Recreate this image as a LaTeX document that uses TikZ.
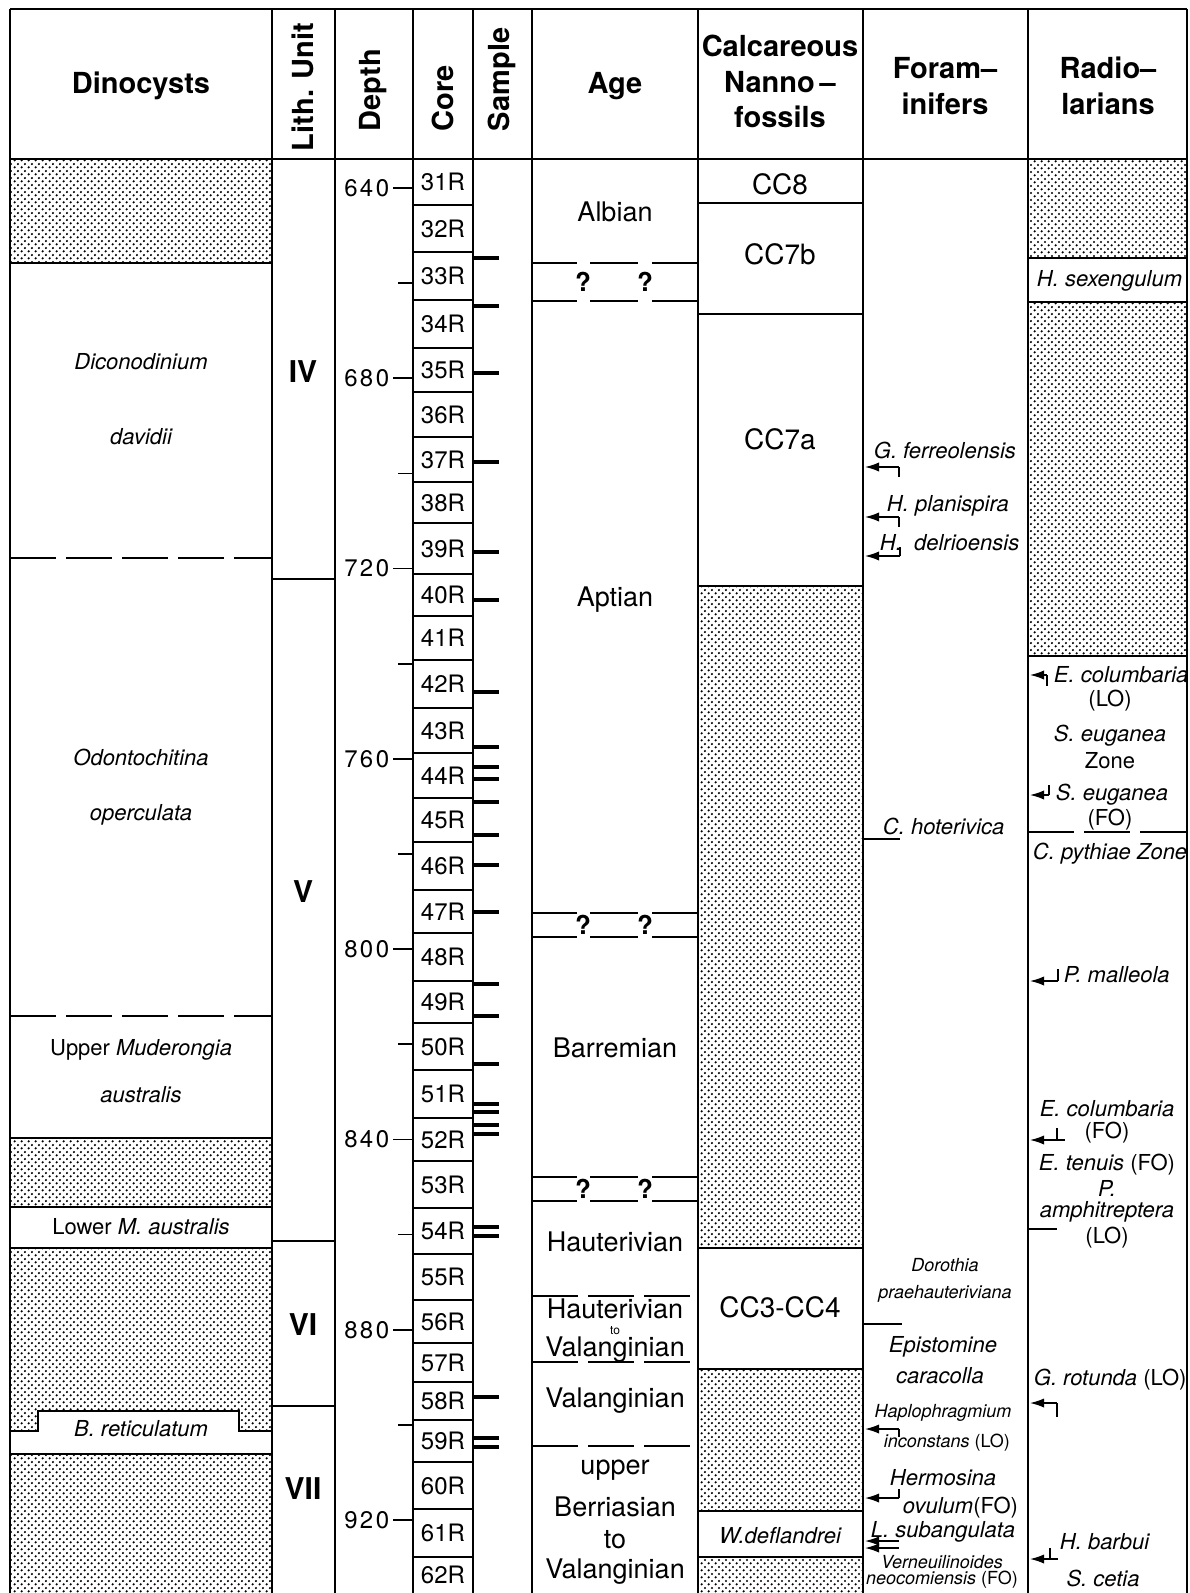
\documentclass[tikz,border=0pt]{standalone}
\usepackage{fontspec}
\setmainfont{TeX Gyre Heros}
\usetikzlibrary{arrows.meta,patterns}
\pgfdeclarepatternformonly{sdots}{\pgfqpoint{0pt}{0pt}}{\pgfqpoint{3.4pt}{3.4pt}}{\pgfqpoint{3.4pt}{3.4pt}}{%
  \pgfpathcircle{\pgfqpoint{0.85pt}{0.85pt}}{0.62pt}%
  \pgfpathcircle{\pgfqpoint{2.55pt}{2.55pt}}{0.62pt}%
  \pgfusepath{fill}}

\begin{document}
\begin{tikzpicture}[x=0.5pt,y=-0.5pt,line width=0.9pt,inner sep=1pt,
 hd/.style={font=\fontsize{14.5}{16}\selectfont\bfseries},
 unit/.style={font=\fontsize{15}{17}\selectfont\bfseries},
 core/.style={font=\fontsize{12}{14}\selectfont},
 dep/.style={font=\fontsize{12}{14}\selectfont\addfontfeatures{LetterSpace=10},anchor=east},
 age/.style={font=\fontsize{13.5}{15}\selectfont},
 nan/.style={font=\fontsize{14}{16}\selectfont},
 sp/.style={font=\fontsize{11}{13}\selectfont\itshape},
 ssp/.style={font=\fontsize{9}{11}\selectfont\itshape},
 up/.style={font=\fontsize{11}{13}\selectfont},
 qm/.style={font=\fontsize{13}{15}\selectfont\bfseries},
 stip/.style={pattern=sdots},
 zb/.style={dash pattern=on 23pt off 5pt},
 lev/.style={line width=0.7pt,-{Latex[length=7pt,width=4.6pt]}},
 smp/.style={line width=1.6pt}]
\useasboundingbox (0,0) rectangle (1189,1593);
\fill[white] (0,0) rectangle (1189,1593);

% intervals without data
\foreach \xa/\ya/\xb/\yb in {10/159/272/263,10/1138/272/1207,10/1248/272/1593,
  698/586/863/1248,698/1369/863/1511,698/1557/863/1593,1028/159/1187/258,1028/302/1187/656}
  \fill[stip] (\xa,\ya) rectangle (\xb,\yb);
\fill[white] (10,1431) -- (38,1431) -- (38,1411) -- (239,1411) -- (239,1431) -- (272,1431) -- (272,1454) -- (10,1454) -- cycle;
\draw (10,1431) -- (38,1431) -- (38,1411) -- (239,1411) -- (239,1431) -- (272,1431);

% frame
\draw[line width=1.2pt] (10,9) -- (1187,9);
\draw[line width=1.2pt] (10,159) -- (1187,159);
\foreach \x in {10,272,335,413,473,532,698,863,1028,1187}
  \draw (\x,9) -- (\x,1593);

\node[hd] (hdino) at (141,86) {Dinocysts};
\node[hd,rotate=90,anchor=west] (hlith) at (303,154) {Lith. Unit};
\node[hd,rotate=90,anchor=west] (hdep) at (373,134) {Depth};
\node[hd,rotate=90,anchor=west] (hcore) at (443,134) {Core};
\node[hd,rotate=90,anchor=west] (hsmp) at (502,134) {Sample};
\node[hd] (hage) at (615,86) {Age};
\node[hd] (hnan1) at (780,46) {Calcareous};
\node[hd] (hnan2) at (780,82) {Nanno\,--};
\node[hd] (hnan3) at (780,117) {fossils};
\node[hd] (hfor1) at (945,68) {Foram--};
\node[hd] (hfor2) at (945,104) {inifers};
\node[hd] (hrad1) at (1108,68) {Radio--};
\node[hd] (hrad2) at (1108,104) {larians};

% dinocysts
\draw (10,263) -- (272,263);
\draw[zb] (10,558) -- (272,558);
\draw[zb] (10,1016) -- (272,1016);
\foreach \y in {1138,1207,1248,1454}
  \draw (10,\y) -- (272,\y);
\node[sp] (dd1) at (141,362) {Diconodinium};
\node[sp] (dd2) at (141,437) {davidii};
\node[sp] (do1) at (141,757) {Odontochitina};
\node[sp] (do2) at (141,815) {operculata};
\node[up] (dm1) at (141,1050) {Upper \textit{Muderongia}};
\node[sp] (dm2) at (141,1095) {australis};
\node[up] (dm3) at (141,1227) {Lower \textit{M. australis}};
\node[sp] (dbr) at (141,1429) {B. reticulatum};

% lithologic units
\foreach \y in {579,1241,1406}
  \draw (272,\y) -- (335,\y);
\node[unit] (u4) at (303,372) {IV};
\node[unit] (u5) at (303,892) {V};
\node[unit] (u6) at (303,1325) {VI};
\node[unit] (u7) at (303,1489) {VII};

% depth scale
\foreach \d in {640,680,...,920}{
  \node[dep] (d\d) at (392,{188+(\d-640)*4.757}) {\d};
  \draw (393,{188+(\d-640)*4.757}) -- (413,{188+(\d-640)*4.757});}
\foreach \d in {660,700,...,900}
  \draw (398,{188+(\d-640)*4.757}) -- (413,{188+(\d-640)*4.757});

% cores
\foreach \n/\ya/\yb in {31/159/205,32/205/252,33/252/300,34/300/348,35/348/392,36/392/437,
  37/437/482,38/482/523,39/523/574,40/574/616,41/616/660,42/660/708,43/708/753,44/753/798,
  45/798/842,46/842/890,47/890/933,48/933/981,49/981/1023,50/1023/1070,51/1070/1118,
  52/1118/1161,53/1161/1208,54/1208/1254,55/1254/1300,56/1300/1343,57/1343/1382,
  58/1382/1420,59/1420/1462,60/1462/1509,61/1509/1557}{
  \node[core] (c\n) at (443,{(\ya+\yb)/2}) {\n R};
  \draw (413,\yb) -- (473,\yb);}
\node[core] (c62) at (443,1575) {62R};

% samples
\foreach \y in {258,306,373,462,552,600,692,747,767,779,802,835,865,912,
  984,1016,1064,1104,1112,1125,1134,1227,1236,1397,1438,1447}
  \draw[smp] (473,\y) -- (499,\y);

% age
\foreach \ya/\yb/\i in {263/301/1,913/937/2,1177/1201/3}{
  \foreach \y in {\ya,\yb}{
    \draw (532,\y) -- (577,\y);
    \draw (590,\y) -- (638,\y);
    \draw (652,\y) -- (698,\y);}
  \node[qm] (qa\i) at (583,{(\ya+\yb)/2}) {?};
  \node[qm] (qb\i) at (645,{(\ya+\yb)/2}) {?};}
\foreach \y in {1296,1362,1446}
  \draw[zb] (532,\y) -- (698,\y);
\node[age] (a1) at (615,212) {Albian};
\node[age] (a2) at (615,600) {Aptian};
\node[age] (a3) at (615,1048) {Barremian};
\node[age] (a4) at (615,1242) {Hauterivian};
\node[age] (a5) at (615,1309) {Hauterivian};
\node[font=\fontsize{6}{7}\selectfont,inner sep=0pt] (a5t) at (615,1331) {to};
\node[age] (a5b) at (615,1350) {Valanginian};
\node[age] (a6) at (615,1401) {Valanginian};
\node[age] (a7) at (615,1470) {upper};
\node[age] (a7b) at (615,1507) {Berriasian};
\node[age] (a7c) at (615,1540) {to};
\node[age] (a7d) at (615,1572) {Valanginian};

% calcareous nannofossils
\foreach \y in {203,314,586,1248,1369,1511,1557}
  \draw (698,\y) -- (863,\y);
\node[nan] (n1) at (780,184) {CC8};
\node[nan] (n2) at (780,254) {CC7b};
\node[nan] (n3) at (780,439) {CC7a};
\node[nan] (n4) at (780,1307) {CC3-CC4};
\node[sp] (n5) at (780,1536) {W.deflandrei};

% foraminifers
\node[sp,anchor=west] (f1) at (871,450) {G. ferreolensis};
\node[sp,anchor=west] (f2) at (884,506) {H. planispira};
\node[sp,anchor=west] (f3) at (877,543) {H.\ \ delrioensis};
\node[sp,anchor=west] (f4) at (880,826) {C. hoterivica};
\draw (863,839) -- (900,839);
\node[ssp] (f5) at (945,1265) {Dorothia};
\node[ssp] (f5b) at (945,1294) {praehauteriviana};
\draw (863,1324) -- (902,1324);
\node[sp] (f6) at (943,1347) {Epistomine};
\node[sp] (f6b) at (940,1376) {caracolla};
\node[ssp] (f7) at (943,1413) {Haplophragmium};
\node[ssp,anchor=west] (f7b) at (881,1443) {inconstans {\upshape (LO)}};
\node[sp] (f8) at (943,1478) {Hermosina};
\node[sp,anchor=west] (f8b) at (900,1508) {ovulum{\upshape (FO)}};
\node[sp,anchor=west] (f9) at (868,1532) {L. subangulata};
\node[ssp] (f10) at (942,1562) {Verneuilinoides};
\node[ssp] (f10b) at (942,1580) {neocomiensis {\upshape (FO)}};

% radiolarians
\foreach \y in {258,302,656}
  \draw (1028,\y) -- (1187,\y);
\draw[zb] (1028,832) -- (1187,832);
\node[sp,anchor=west] (r1) at (1034,281) {H. sexengulum};
\node[sp,anchor=west] (r2) at (1051,675) {E. columbaria};
\node[up] (r2b) at (1110,701) {(LO)};
\node[sp] (r3) at (1110,736) {S. euganea};
\node[up] (r3b) at (1110,761) {Zone};
\node[sp,anchor=west] (r4) at (1053,795) {S. euganea};
\node[up] (r4b) at (1110,820) {(FO)};
\node[sp,anchor=west] (r5) at (1030,854) {C. pythiae Zone};
\node[sp,anchor=west] (r6) at (1061,975) {P. malleola};
\node[sp] (r7) at (1107,1109) {E. columbaria};
\node[up] (r7b) at (1107,1133) {(FO)};
\node[sp] (r8) at (1107,1165) {E. tenuis {\upshape (FO)}};
\node[sp,inner sep=0pt] (r8b) at (1107,1188) {P.};
\node[sp] (r8c) at (1107,1212) {amphitreptera};
\node[up] (r8d) at (1107,1238) {(LO)};
\draw (1028,1229) -- (1057,1229);
\node[sp,anchor=west] (r9) at (1031,1380) {G. rotunda {\upshape (LO)}};
\node[sp,anchor=west] (r10) at (1057,1542) {H. barbui};
\node[sp] (r11) at (1103,1578) {S. cetia};

% first and last occurrences
\foreach \n/\xe/\xs/\xk/\y/\dy in {gf/865/899/899/467/10,hp/865/899/899/517/10,hd/865/900/900/556/-9,
  hi/865/899/899/1429/8,ho/865/899/899/1498/-9,ls/865/899/899/1541/0,lt/865/899/899/1548/0,
  ec/1030/1047/1047/675/11,se/1030/1049/1049/795/-10,pm/1030/1058/1058/981/-12,
  ef/1030/1065/1057/1140/-12,gr/1030/1057/1057/1403/14,hb/1030/1058/1050/1559/-11}{
  \coordinate (s\n) at (\xs,\y);
  \coordinate (e\n) at (\xe,\y);
  \draw[lev] (s\n) -- (e\n);
  \draw[line width=0.7pt] (\xk,\y) -- ++(0,\dy);}
\end{tikzpicture}
\end{document}
